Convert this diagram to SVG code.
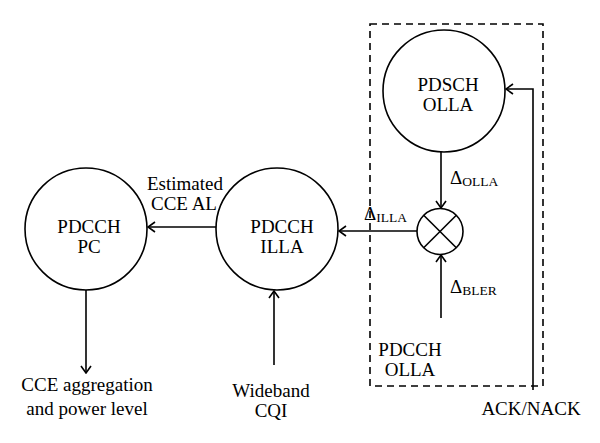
<svg xmlns="http://www.w3.org/2000/svg" width="600" height="443" viewBox="0 0 600 443">
<style>
.n{fill:none;stroke:#000;stroke-width:1.6}
.l{fill:none;stroke:#000;stroke-width:1.6}
text{font-family:"Liberation Serif","DejaVu Serif",serif;font-size:19px;fill:#000;text-anchor:middle}
.s{font-size:13.5px}
.st{text-anchor:start}
</style>
<defs>
<marker id="a" viewBox="0 0 12 12" refX="11" refY="6" markerWidth="12" markerHeight="12" markerUnits="userSpaceOnUse" orient="auto">
<polyline points="4,1 11,6 4,11" fill="none" stroke="#000" stroke-width="1.6"/>
</marker>
</defs>
<rect x="0" y="0" width="600" height="443" fill="#fff"/>
<g id="pdcch-olla-box">
<rect x="370" y="24" width="173" height="362" fill="none" stroke="#000" stroke-width="1.6" stroke-dasharray="7,5"/>
<text x="410" y="356">PDCCH</text>
<text x="410" y="376">OLLA</text>
</g>
<g id="pdsch-olla">
<circle class="n" cx="444" cy="91" r="61"/>
<text x="448" y="91">PDSCH</text>
<text x="448" y="111">OLLA</text>
</g>
<g id="multiplier">
<circle class="n" cx="440" cy="231.5" r="23"/>
<line class="l" x1="423.7" y1="215.2" x2="456.3" y2="247.8"/>
<line class="l" x1="456.3" y1="215.2" x2="423.7" y2="247.8"/>
</g>
<g id="pdcch-illa">
<circle class="n" cx="277" cy="229" r="61"/>
<text x="282" y="233">PDCCH</text>
<text x="282" y="253">ILLA</text>
</g>
<g id="pdcch-pc">
<circle class="n" cx="86" cy="229" r="61"/>
<text x="89" y="233">PDCCH</text>
<text x="89" y="253">PC</text>
</g>
<g id="labels">
<text x="185" y="190">Estimated</text>
<text x="184" y="210">CCE AL</text>
<text x="87" y="391">CCE aggregation</text>
<text x="87" y="415">and power level</text>
<text x="271" y="397">Wideband</text>
<text x="271" y="417">CQI</text>
<text x="531" y="415">ACK/NACK</text>
<text class="st" x="450" y="184">Δ<tspan class="s" dy="2">OLLA</tspan></text>
<text class="st" x="450" y="293">Δ<tspan class="s" dy="2">BLER</tspan></text>
<text class="st" x="364" y="220">Δ<tspan class="s" dy="2">ILLA</tspan></text>
</g>
<g id="connectors">
<line class="l" x1="441" y1="152" x2="441" y2="208" marker-end="url(#a)"/>
<line class="l" x1="441" y1="318" x2="441" y2="255" marker-end="url(#a)"/>
<line class="l" x1="417" y1="231" x2="339" y2="231" marker-end="url(#a)"/>
<line class="l" x1="216" y1="227" x2="148" y2="227" marker-end="url(#a)"/>
<line class="l" x1="86" y1="290" x2="86" y2="373" marker-end="url(#a)"/>
<line class="l" x1="274" y1="365" x2="274" y2="291" marker-end="url(#a)"/>
<polyline class="l" points="533,390 533,89 506,89" marker-end="url(#a)"/>
</g>
</svg>
